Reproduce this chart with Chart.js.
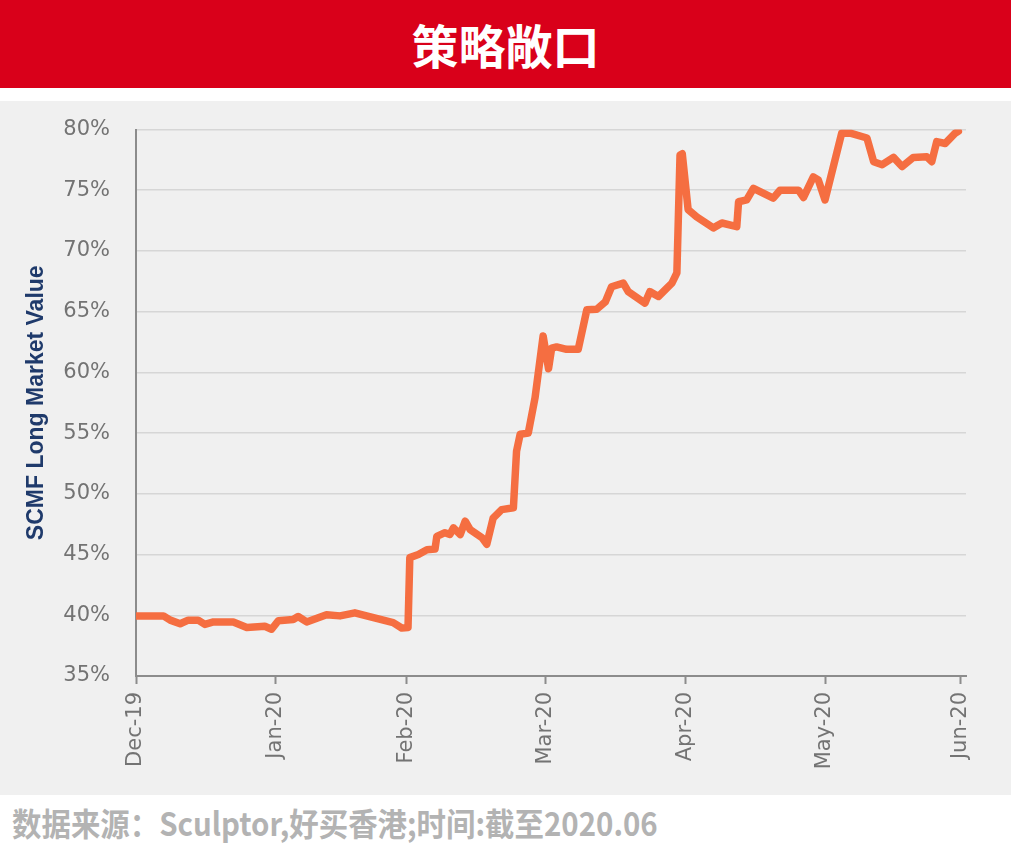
<!DOCTYPE html>
<html>
<head>
<meta charset="utf-8">
<script src="https://cdn.jsdelivr.net/npm/chart.js@4/dist/chart.umd.min.js"></script>
<style>
  html, body { margin: 0; padding: 0; background: #ffffff; }
  body { width: 1011px; height: 845px; position: relative; overflow: hidden; }
  #titlebar { position: absolute; left: 0; top: 0; width: 1011px; height: 88px; background: #d9001a;
    color: #ffffff; font-family: "Noto Sans CJK SC", sans-serif; font-weight: 700; font-size: 47px;
    line-height: 88px; text-align: center; }
  #panel { position: absolute; left: 0; top: 101px; width: 1011px; height: 694px; background: #f0f0f0; }
  #footer { position: absolute; left: 12px; top: 801px; font-family: "Noto Sans CJK SC", sans-serif;
    font-weight: 700; font-size: 32px; line-height: 42px; color: #b3b3b3; white-space: nowrap;
    transform: scaleX(0.92); transform-origin: left center; }
</style>
</head>
<body>
<div id="titlebar">策略敞口</div>
<div id="panel"><canvas id="c" width="1011" height="694"></canvas></div>
<div id="footer">数据来源：Sculptor,好买香港;时间:截至2020.06</div>
<script>
// ---- data (x = days since 1 Dec 2019) ----
const obsDay = [0, 6.1, 7.6, 9.8, 11.6, 13.8, 15.3, 17.2, 21.6, 24.6, 28.6, 30.1, 31.6, 34.9, 36.0, 37.9,
  42.3, 45.3, 48.6, 51.2, 57.1, 59.0, 60.4, 60.8, 62.7, 64.6, 66.4, 66.8, 68.6, 69.7, 70.5, 72.0, 73.1,
  74.2, 76.8, 77.9, 79.3, 81.2, 83.8, 84.5, 85.3, 87.1, 88.6, 90.4, 91.6, 92.3, 93.4, 95.6, 98.2, 100.1,
  102.3, 104.2, 105.6, 108.2, 109.3, 113.0, 114.1, 116.0, 119.0, 120.1, 120.8, 121.3, 122.6, 124.5,
  128.2, 130.1, 133.4, 133.8, 135.6, 137.1, 141.5, 143.0, 147.1, 148.2, 150.4, 151.5, 153.0, 156.7,
  158.6, 162.3, 163.8, 165.7, 168.2, 170.1, 172.6, 175.6, 176.7, 177.8, 179.7, 181.9, 182.6];
const longMarketValue = [39.95, 39.95, 39.6, 39.3, 39.6, 39.6, 39.25, 39.45, 39.45, 39.0, 39.1, 38.85,
  39.55, 39.65, 39.9, 39.45, 40.05, 39.95, 40.2, 39.95, 39.4, 38.95, 39.0, 44.75, 45.0, 45.4, 45.45,
  46.5, 46.8, 46.65, 47.2, 46.65, 47.75, 47.05, 46.4, 45.85, 48.0, 48.7, 48.85, 53.5, 54.9, 55.0, 57.9,
  63.0, 60.3, 62.0, 62.1, 61.9, 61.9, 65.15, 65.2, 65.8, 67.05, 67.35, 66.65, 65.7, 66.65, 66.25, 67.35,
  68.2, 77.9, 78.0, 73.4, 72.8, 71.9, 72.3, 72.0, 74.05, 74.2, 75.15, 74.35, 75.0, 75.0, 74.4, 76.1,
  75.85, 74.2, 79.7, 79.7, 79.3, 77.35, 77.1, 77.7, 76.95, 77.7, 77.75, 77.35, 79.0, 78.85, 79.7, 79.85];
const monthTickDay = [0, 31, 60, 91, 122, 153, 183];
const monthLabels = ['Dec-19', 'Jan-20', 'Feb-20', 'Mar-20', 'Apr-20', 'May-20', 'Jun-20'];
const yMin = 35, yMax = 80, yStep = 5;
const xMax = 184.3;
const yTitle = 'SCMF Long Market Value';

const points = obsDay.map((d, i) => ({ x: d, y: longMarketValue[i] }));

new Chart(document.getElementById('c'), {
  type: 'line',
  data: {
    datasets: [{
      data: points,
      borderColor: '#f56e41',
      borderWidth: 7.5,
      pointRadius: 0,
      tension: 0,
      borderCapStyle: 'round',
      borderJoinStyle: 'round',
      fill: false
    }]
  },
  options: {
    responsive: false,
    animation: false,
    layout: { padding: { left: 0, right: 45, top: 28.5, bottom: 0 } },
    plugins: { legend: { display: false }, tooltip: { enabled: false } },
    scales: {
      x: {
        type: 'linear',
        min: 0,
        max: xMax,
        afterBuildTicks: (s) => { s.ticks = monthTickDay.map(v => ({ value: v })); },
        afterFit: (s) => { s.height = 119; },
        ticks: {
          autoSkip: false,
          maxRotation: 90,
          minRotation: 90,
          padding: 8,
          color: '#737373',
          font: { family: 'DejaVu Sans', size: 21 },
          callback: (v, i) => monthLabels[i]
        },
        grid: { drawOnChartArea: false, drawTicks: true, tickLength: 8, tickColor: '#8c8c8c', tickWidth: 2 },
        border: { color: '#8c8c8c', width: 2 }
      },
      y: {
        min: yMin,
        max: yMax,
        afterFit: (s) => { s.width = 136; s.paddingTop = 0; s.paddingBottom = 0; },
        ticks: {
          stepSize: yStep,
          padding: 26,
          color: '#737373',
          font: { family: 'DejaVu Sans', size: 21 },
          callback: (v) => v + '%'
        },
        grid: { color: '#d6d6d6', lineWidth: 1.5, drawTicks: false },
        border: { color: '#8c8c8c', width: 2 },
        title: {
          display: true,
          text: yTitle,
          color: '#1f3a6b',
          font: { family: 'Liberation Sans', size: 23, weight: 'bold' },
          padding: { top: 23, bottom: 0 }
        }
      }
    }
  }
});
</script>
</body>
</html>
